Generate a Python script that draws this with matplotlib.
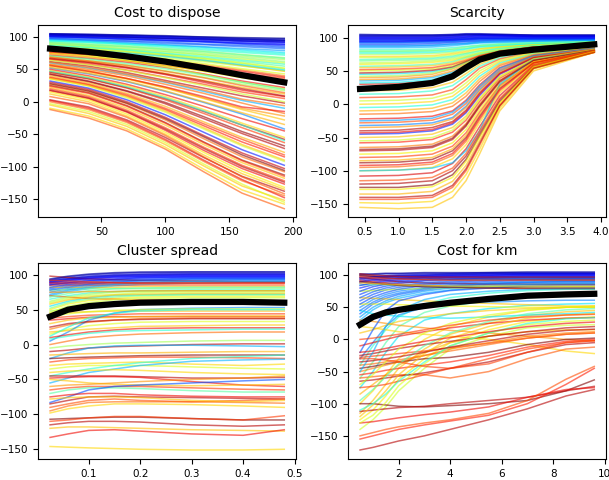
import numpy as np
import matplotlib
matplotlib.use("Agg")
import matplotlib.pyplot as plt

## Cost to dispose
dispose_x = [10, 40, 70, 100, 130, 160, 193]
dispose_mean = [82, 77, 70, 62, 52, 41, 30]
dispose_y = [
    [105, 104, 103, 101, 99, 97, 95], [104, 103, 102, 101, 100, 98, 97],
    [103, 102, 101, 100, 98, 96, 94], [102, 101, 99, 97, 95, 93, 91],
    [101, 100, 99, 98, 97, 96, 95], [100, 99, 97, 95, 93, 91, 89],
    [99, 98, 96, 94, 92, 89, 86], [104, 103, 101, 99, 97, 94, 92],
    [97, 95, 93, 90, 88, 85, 82], [95, 93, 90, 87, 84, 80, 76],
    [93, 91, 88, 84, 80, 76, 72], [92, 89, 86, 82, 78, 73, 68],
    [90, 87, 84, 80, 75, 70, 65], [88, 85, 81, 77, 72, 66, 60],
    [86, 83, 79, 74, 68, 62, 55], [85, 82, 78, 73, 67, 60, 52],
    [80, 77, 73, 68, 62, 55, 48], [83, 80, 76, 71, 64, 56, 47],
    [79, 75, 70, 64, 57, 49, 40], [76, 72, 67, 60, 52, 44, 36],
    [75, 70, 64, 56, 47, 37, 28], [72, 67, 61, 53, 43, 32, 22],
    [70, 64, 57, 48, 38, 27, 17], [68, 62, 54, 44, 33, 22, 12],
    [65, 58, 49, 38, 27, 15, 5], [62, 55, 45, 33, 21, 9, -2],
    [60, 52, 42, 30, 16, 2, -10], [58, 50, 40, 27, 13, -2, -18],
    [55, 46, 35, 21, 5, -12, -28], [52, 43, 31, 16, -1, -19, -42],
    [50, 40, 27, 11, -7, -26, -45], [48, 38, 25, 8, -12, -33, -55],
    [45, 35, 21, 3, -18, -40, -63], [42, 31, 16, -3, -26, -49, -72],
    [40, 29, 13, -7, -31, -55, -78], [37, 26, 9, -12, -37, -62, -85],
    [35, 24, 6, -16, -42, -68, -92], [32, 21, 3, -20, -47, -74, -98],
    [30, 19, 0, -24, -52, -79, -103], [27, 16, -3, -28, -57, -85, -108],
    [25, 14, -6, -32, -62, -90, -113], [22, 10, -10, -36, -66, -94, -118],
    [20, 8, -13, -40, -70, -98, -122], [17, 5, -16, -44, -75, -103, -127],
    [15, 3, -19, -47, -78, -107, -132], [3, -8, -28, -55, -86, -115, -138],
    [0, -12, -32, -60, -92, -122, -145], [-5, -18, -38, -66, -99, -130, -152],
    [-10, -22, -42, -70, -104, -136, -158], [-12, -25, -45, -73, -108, -141, -165],
    [78, 72, 64, 54, 42, 30, 20], [66, 60, 52, 42, 30, 18, 8],
    [57, 48, 36, 22, 6, -10, -22], [46, 36, 22, 5, -15, -36, -58],
    [38, 27, 11, -10, -34, -58, -82], [28, 17, -2, -26, -54, -82, -106],
    [105, 104, 103, 102, 100, 99, 98], [103, 102, 100, 98, 96, 94, 93],
    [101, 99, 97, 95, 93, 90, 88], [98, 96, 94, 92, 89, 87, 84],
    [96, 94, 91, 88, 85, 82, 79], [94, 92, 89, 86, 82, 78, 74],
    [91, 88, 85, 81, 77, 72, 67], [89, 86, 82, 78, 73, 68, 62],
    [87, 84, 80, 75, 70, 64, 58], [84, 81, 77, 72, 66, 59, 51],
    [82, 79, 75, 70, 64, 57, 49], [81, 77, 72, 66, 59, 51, 43],
    [77, 73, 68, 62, 55, 47, 38], [74, 69, 63, 56, 48, 39, 30],
    [71, 66, 59, 51, 41, 30, 19], [69, 63, 56, 47, 37, 25, 14],
    [67, 61, 53, 43, 32, 20, 9], [64, 57, 48, 37, 25, 12, 0],
    [61, 53, 43, 31, 18, 4, -6], [56, 47, 36, 23, 8, -8, -15],
    [53, 44, 32, 17, 0, -17, -35], [47, 37, 23, 6, -14, -36, -60],
    [43, 32, 17, -1, -23, -46, -68], [36, 25, 8, -14, -40, -66, -90],
    [24, 13, -7, -33, -63, -91, -115], [18, 6, -15, -42, -72, -100, -124],
    [12, 0, -22, -50, -82, -111, -135], [2, -10, -30, -58, -90, -120, -148],
    [-3, -15, -35, -63, -96, -127, -155], [8, -3, -24, -52, -85, -116, -142],
]
dispose_c = [0.08, 0.05, 0.1, 0.12, 0.03, 0.15, 0.18, 0.1, 0.22, 0.35, 0.4, 0.5, 0.55, 0.6,
             0.45, 0.62, 0.58, 0.7, 0.8, 0.85, 0.65, 0.9, 0.55, 0.72, 0.85, 0.95, 0.3, 0.8,
             0.7, 0.25, 0.9, 0.68, 0.85, 0.95, 0.72, 0.88, 0.6, 0.15, 0.93, 0.8, 0.98, 0.7,
             0.85, 0.9, 0.66, 0.95, 0.8, 0.7, 0.68, 0.82, 0.6, 0.9, 0.75, 0.95, 0.85, 1.0,
             0.02, 0.06, 0.13, 0.2, 0.28, 0.38, 0.48, 0.52, 0.42, 0.57, 0.35, 0.62,
             0.9, 0.75, 0.45, 0.82, 0.95, 0.6, 0.8, 0.9,
             0.72, 0.4, 0.98, 0.7, 0.85, 0.95, 0.7, 0.9, 0.62, 0.82]

## Scarcity
scarcity_x = [0.43, 1.0, 1.5, 1.8, 2.0, 2.2, 2.5, 3.0, 3.9]
scarcity_mean = [23, 26, 32, 42, 55, 67, 76, 82, 90]
scarcity_y = [
    [105, 104, 104, 105, 106, 106, 105, 104, 104], [103, 103, 103, 104, 105, 105, 104, 103, 103],
    [101, 101, 101, 102, 103, 104, 103, 102, 102], [99, 99, 99, 100, 101, 102, 102, 101, 101],
    [97, 97, 97, 98, 99, 100, 100, 100, 100], [95, 95, 96, 97, 98, 99, 99, 99, 99],
    [93, 93, 94, 95, 96, 97, 98, 98, 98], [90, 90, 91, 93, 94, 95, 96, 97, 97],
    [88, 88, 89, 91, 92, 94, 95, 96, 97], [85, 85, 86, 88, 90, 92, 93, 94, 96],
    [82, 82, 83, 85, 87, 89, 91, 93, 95], [79, 79, 80, 82, 84, 87, 89, 91, 94],
    [75, 75, 76, 78, 81, 84, 87, 90, 93], [70, 70, 71, 74, 77, 81, 85, 89, 92],
    [65, 66, 67, 70, 74, 78, 83, 88, 92], [60, 61, 63, 66, 71, 76, 81, 87, 91],
    [55, 56, 58, 62, 68, 74, 80, 86, 91], [50, 51, 53, 58, 65, 72, 79, 86, 90],
    [45, 46, 49, 55, 63, 71, 78, 85, 90], [40, 41, 45, 53, 62, 70, 77, 85, 90],
    [35, 36, 40, 48, 58, 68, 76, 84, 89], [30, 31, 35, 43, 55, 66, 75, 83, 89],
    [25, 26, 30, 38, 50, 63, 73, 82, 88], [20, 21, 25, 33, 46, 60, 72, 81, 88],
    [15, 16, 20, 28, 42, 57, 70, 80, 87], [10, 11, 14, 22, 37, 54, 68, 79, 87],
    [5, 6, 9, 17, 32, 50, 66, 78, 86], [0, 1, 4, 12, 27, 46, 64, 77, 86],
    [-5, -4, -1, 7, 22, 42, 62, 76, 85], [-10, -9, -6, 2, 17, 38, 60, 75, 85],
    [-15, -14, -11, -3, 12, 34, 58, 74, 84], [-22, -21, -18, -10, 6, 29, 55, 73, 84],
    [-28, -27, -24, -15, 1, 25, 52, 72, 83], [-32, -31, -28, -20, -3, 22, 50, 71, 83],
    [-40, -39, -35, -26, -9, 17, 47, 70, 82], [-45, -44, -40, -30, -13, 13, 45, 69, 82],
    [-50, -49, -45, -35, -18, 9, 42, 68, 82], [-58, -57, -53, -42, -24, 4, 39, 67, 81],
    [-65, -64, -60, -48, -29, 0, 36, 66, 81], [-70, -69, -65, -53, -33, -4, 33, 65, 81],
    [-75, -74, -70, -58, -38, -8, 30, 64, 80], [-80, -79, -75, -63, -43, -12, 28, 63, 80],
    [-88, -87, -83, -70, -50, -18, 24, 62, 80], [-95, -94, -90, -77, -56, -24, 20, 61, 80],
    [-100, -99, -95, -82, -61, -28, 17, 60, 80], [-108, -107, -103, -89, -67, -34, 13, 59, 80],
    [-100, -99, -96, -88, -70, -40, 30, 68, 80], [-120, -119, -115, -100, -78, -44, 7, 57, 79],
    [-125, -125, -121, -106, -83, -48, 4, 56, 79], [-135, -135, -131, -116, -92, -55, 0, 55, 78],
    [-143, -143, -140, -125, -100, -62, -3, 54, 78], [-148, -149, -146, -131, -106, -68, -6, 53, 78],
    [-155, -157, -155, -140, -115, -75, -10, 50, 78],
    [104, 104, 104, 104, 105, 105, 105, 104, 104], [102, 102, 102, 103, 104, 104, 104, 103, 103],
    [100, 100, 100, 101, 102, 103, 103, 102, 102], [98, 98, 98, 99, 100, 101, 101, 101, 101],
    [96, 96, 96, 97, 98, 99, 99, 99, 99], [94, 94, 95, 96, 97, 98, 98, 98, 98],
    [92, 92, 93, 94, 95, 96, 97, 97, 97], [87, 87, 88, 90, 91, 93, 94, 95, 96],
    [80, 80, 81, 83, 86, 88, 90, 92, 94], [77, 77, 78, 80, 83, 86, 88, 91, 93],
    [72, 72, 73, 76, 79, 83, 86, 89, 92], [67, 68, 69, 72, 76, 80, 84, 88, 92],
    [62, 63, 65, 68, 72, 77, 82, 87, 91], [57, 58, 60, 64, 70, 75, 81, 87, 91],
    [52, 53, 55, 60, 66, 73, 80, 86, 90], [47, 48, 51, 56, 64, 72, 79, 86, 90],
    [42, 43, 47, 54, 62, 70, 78, 85, 90], [37, 38, 42, 50, 60, 69, 77, 84, 89],
    [32, 33, 37, 46, 57, 67, 76, 84, 89],
    [-25, -24, -21, -12, 4, 27, 54, 73, 84], [-35, -34, -31, -22, -5, 20, 49, 71, 83],
    [-43, -42, -38, -28, -11, 15, 46, 70, 82], [-55, -54, -50, -39, -21, 7, 41, 68, 82],
    [-68, -67, -63, -51, -31, -2, 35, 66, 81], [-85, -84, -80, -67, -47, -15, 26, 63, 80],
    [-92, -91, -87, -74, -53, -21, 22, 62, 80], [-115, -114, -110, -96, -74, -40, 9, 58, 79],
    [-128, -128, -124, -110, -86, -50, 2, 56, 79], [-140, -140, -137, -122, -97, -59, -2, 54, 78],
]
scarcity_c = [0.05, 0.1, 0.08, 0.12, 0.15, 0.1, 0.2, 0.18, 0.25, 0.3, 0.4, 0.45, 0.55, 0.6,
              0.5, 0.66, 0.7, 0.62, 0.35, 0.75, 0.3, 0.9, 0.55, 0.7, 0.4, 0.85, 0.6, 0.68,
              0.38, 0.72, 0.8, 0.9, 0.83, 0.25, 0.95, 0.15, 0.7, 0.88, 0.78, 0.95, 0.65, 0.85,
              0.98, 0.8, 0.68, 0.92, 0.32, 0.96, 1.0, 0.72, 0.85, 0.68, 0.7,
              0.03, 0.06, 0.13, 0.09, 0.17, 0.14, 0.22, 0.28,
              0.5, 0.38, 0.68, 0.42, 0.58, 0.45, 0.85, 0.95, 0.55, 0.75, 0.36,
              0.28, 0.75, 0.9, 0.6, 0.98, 0.72, 0.9, 0.83, 0.65, 0.95]

## Cluster spread
cluster_x = [0.025, 0.06, 0.1, 0.15, 0.2, 0.3, 0.4, 0.48]
cluster_mean = [40, 50, 55, 58, 60, 61, 61, 60]
cluster_y = [
    [93, 97, 100, 102, 103, 104, 104, 104], [92, 95, 98, 100, 101, 102, 102, 102],
    [90, 93, 96, 98, 99, 100, 100, 100], [88, 91, 94, 96, 97, 98, 98, 98],
    [85, 88, 91, 93, 95, 96, 96, 96], [80, 84, 87, 90, 92, 94, 94, 94],
    [75, 80, 84, 87, 89, 91, 92, 92], [70, 76, 80, 84, 86, 88, 89, 89],
    [98, 96, 94, 93, 92, 91, 90, 90], [86, 86, 86, 86, 86, 86, 86, 86],
    [82, 82, 82, 82, 83, 83, 83, 83], [78, 79, 80, 80, 80, 80, 80, 80],
    [65, 70, 74, 76, 77, 78, 78, 78], [60, 66, 70, 72, 74, 75, 75, 75],
    [55, 62, 67, 70, 71, 72, 72, 72], [50, 58, 63, 66, 68, 69, 69, 69],
    [48, 52, 55, 58, 60, 62, 62, 62], [70, 68, 66, 65, 64, 64, 64, 63],
    [45, 46, 47, 48, 48, 48, 48, 48], [38, 40, 42, 43, 44, 44, 44, 44],
    [35, 37, 39, 40, 40, 40, 40, 40], [30, 35, 38, 39, 40, 41, 41, 41],
    [22, 28, 32, 35, 37, 38, 38, 38], [15, 22, 27, 30, 32, 33, 33, 33],
    [5, 18, 35, 45, 50, 52, 53, 53], [10, 14, 18, 21, 23, 24, 24, 24],
    [8, 12, 16, 19, 20, 21, 22, 22], [0, 5, 10, 13, 15, 17, 18, 18],
    [-5, -2, 0, 2, 3, 5, 6, 6], [-10, -8, -5, -3, -2, 0, 1, 1],
    [-20, -12, -5, -2, -1, -1, -2, -3], [-15, -14, -13, -12, -12, -11, -10, -10],
    [-20, -19, -18, -17, -16, -15, -15, -15], [-25, -22, -20, -19, -18, -18, -19, -20],
    [-30, -28, -27, -26, -25, -28, -30, -28], [-35, -32, -30, -30, -30, -32, -34, -35],
    [-45, -40, -35, -30, -26, -20, -17, -15], [-55, -48, -40, -35, -30, -24, -22, -21],
    [-45, -45, -45, -45, -46, -48, -48, -47], [-48, -47, -46, -46, -47, -53, -58, -60],
    [-50, -52, -55, -57, -58, -59, -58, -57], [-60, -58, -57, -55, -53, -50, -48, -45],
    [-65, -62, -60, -60, -60, -62, -64, -65], [-70, -65, -62, -62, -63, -66, -68, -68],
    [-83, -75, -65, -60, -58, -55, -52, -50], [-85, -80, -75, -74, -75, -76, -77, -78],
    [-90, -85, -80, -78, -80, -82, -80, -78], [-95, -88, -83, -82, -82, -82, -83, -84],
    [-98, -92, -88, -85, -85, -86, -88, -90], [-107, -106, -105, -104, -104, -106, -108, -108],
    [-110, -108, -105, -103, -103, -106, -108, -102], [-115, -112, -110, -110, -111, -115, -117, -115],
    [-120, -118, -118, -119, -120, -122, -123, -124], [-133, -128, -123, -122, -124, -128, -130, -122],
    [-146, -147, -148, -149, -150, -151, -151, -150],
    [94, 98, 101, 103, 104, 104, 104, 104], [91, 94, 97, 99, 100, 101, 101, 101],
    [89, 92, 95, 97, 98, 99, 99, 99], [86, 89, 92, 94, 96, 97, 97, 97],
    [82, 86, 89, 92, 93, 95, 95, 95], [78, 82, 86, 89, 91, 93, 93, 93],
    [72, 78, 82, 86, 88, 90, 90, 90],
    [68, 73, 77, 80, 81, 82, 82, 82], [62, 68, 72, 75, 76, 77, 77, 77],
    [58, 64, 68, 71, 72, 73, 73, 73], [52, 60, 65, 68, 70, 71, 71, 71],
    [46, 55, 60, 64, 66, 67, 67, 67], [92, 91, 90, 89, 88, 88, 88, 88],
    [88, 88, 88, 88, 88, 88, 88, 88], [75, 75, 76, 76, 77, 77, 77, 77],
    [40, 44, 47, 49, 50, 51, 51, 51], [25, 30, 33, 35, 36, 37, 37, 37],
    [18, 20, 22, 24, 26, 27, 28, 28], [12, 25, 38, 45, 48, 50, 50, 50],
    [-40, -38, -37, -36, -37, -40, -42, -43], [-75, -72, -70, -70, -72, -74, -75, -75],
    [-78, -76, -75, -75, -76, -80, -82, -80],
]
cluster_c = [0.05, 0.08, 0.1, 0.12, 0.15, 0.2, 0.25, 0.3, 0.95, 0.85, 0.7, 0.5, 0.4, 0.6,
             0.35, 0.65, 0.55, 0.8, 0.72, 0.85, 0.9, 0.7, 0.78, 0.62, 0.25, 0.9, 0.4, 0.8,
             0.55, 0.95, 0.3, 0.72, 1.0, 0.85, 0.68, 0.62, 0.4, 0.3, 0.95, 0.9, 0.7, 0.75,
             0.85, 0.45, 0.2, 0.95, 0.83, 0.8, 0.68, 1.0, 0.85, 0.95, 0.7, 0.9, 0.68,
             0.03, 0.07, 0.11, 0.14, 0.18, 0.22, 0.28,
             0.45, 0.55, 0.7, 0.5, 0.6, 0.85, 0.9, 0.75,
             0.62, 0.95, 0.7, 0.38, 0.68, 0.9, 0.7]

## Cost for km
km_x = [0.5, 1.0, 1.5, 2.0, 3.0, 4.0, 5.5, 7.0, 8.5, 9.6]
km_mean = [23, 35, 42, 46, 52, 57, 63, 68, 70, 71]
km_y = [
    [100, 101, 102, 102, 103, 103, 104, 104, 104, 104], [97, 98, 99, 100, 101, 102, 103, 103, 103, 103],
    [93, 95, 97, 98, 99, 100, 101, 102, 102, 102], [88, 91, 93, 95, 97, 98, 99, 100, 100, 100],
    [80, 85, 89, 91, 94, 96, 97, 98, 98, 98], [70, 78, 83, 87, 91, 93, 95, 96, 96, 96],
    [60, 70, 77, 81, 86, 89, 92, 93, 94, 94], [50, 62, 70, 75, 81, 85, 88, 90, 91, 91],
    [40, 55, 64, 70, 77, 82, 86, 88, 89, 89], [30, 46, 57, 64, 72, 77, 82, 85, 86, 86],
    [100, 98, 96, 95, 94, 94, 94, 94, 94, 94], [96, 94, 92, 90, 88, 87, 86, 86, 86, 86],
    [92, 90, 88, 86, 84, 82, 80, 79, 78, 78], [85, 85, 85, 84, 83, 82, 82, 82, 82, 82],
    [75, 76, 77, 78, 79, 80, 81, 82, 82, 82], [-40, -10, 15, 35, 55, 65, 72, 76, 78, 78],
    [-60, -35, -5, 20, 42, 52, 60, 65, 67, 68], [-75, -50, -20, 5, 30, 40, 48, 53, 55, 56],
    [-30, -5, 20, 38, 50, 55, 58, 60, 61, 61], [65, 64, 63, 62, 60, 58, 56, 54, 52, 52],
    [55, 55, 55, 54, 53, 52, 51, 50, 50, 50], [-100, -80, -55, -30, 0, 20, 35, 45, 50, 52],
    [-115, -95, -70, -45, -15, 8, 25, 37, 43, 45], [-125, -110, -88, -62, -30, -5, 15, 28, 33, 35],
    [-140, -125, -105, -80, -45, -15, 5, 18, 22, 23], [-85, -70, -55, -40, -20, -5, 5, 12, 15, 15],
    [20, 18, 15, 12, 8, 5, 0, -8, -18, -22], [30, 28, 25, 22, 18, 14, 10, 5, 0, -2],
    [-10, -5, 0, 5, 12, 18, 25, 30, 33, 34], [-25, -22, -18, -14, -8, -3, 5, 12, 18, 20],
    [-28, -26, -24, -22, -18, -13, -6, 2, 8, 10], [-40, -38, -35, -32, -25, -18, -8, 2, 8, 10],
    [-45, -42, -38, -35, -30, -28, -20, -8, 0, 2], [-55, -52, -48, -45, -40, -35, -25, -12, -3, 0],
    [-60, -58, -56, -55, -55, -60, -50, -30, -15, -12], [-65, -63, -60, -57, -52, -45, -35, -20, -8, -5],
    [-50, -45, -40, -35, -25, -15, -5, 5, 10, 12], [-75, -73, -70, -65, -55, -45, -30, -15, -5, -2],
    [-100, -100, -102, -104, -105, -103, -100, -95, -80, -63], [-112, -110, -108, -106, -104, -100, -95, -90, -80, -73],
    [-130, -128, -125, -122, -117, -113, -105, -90, -78, -75], [-150, -145, -140, -136, -130, -125, -115, -95, -62, -42],
    [-155, -150, -145, -140, -133, -127, -118, -100, -70, -45], [-172, -168, -163, -158, -150, -140, -125, -108, -88, -78],
    [45, 40, 38, 36, 34, 33, 35, 38, 40, 42], [10, 15, 22, 28, 35, 40, 45, 48, 50, 50],
    [102, 102, 103, 103, 104, 104, 104, 105, 105, 105], [95, 97, 98, 99, 100, 101, 102, 102, 102, 102],
    [90, 93, 95, 96, 98, 99, 100, 101, 101, 101], [84, 88, 91, 93, 96, 97, 98, 99, 99, 99],
    [75, 82, 86, 89, 92, 94, 96, 97, 97, 97], [65, 74, 80, 84, 88, 91, 93, 95, 95, 95],
    [55, 66, 73, 78, 84, 87, 90, 92, 92, 92], [45, 58, 67, 72, 79, 83, 87, 89, 90, 90],
    [35, 50, 60, 67, 75, 80, 84, 86, 87, 87], [-20, 15, 45, 60, 70, 76, 80, 83, 84, 84],
    [-50, -20, 20, 45, 62, 70, 75, 78, 79, 79],
    [102, 100, 99, 98, 97, 97, 97, 97, 97, 97], [98, 96, 95, 94, 93, 92, 92, 92, 92, 92],
    [90, 88, 86, 84, 82, 81, 80, 80, 80, 80], [88, 87, 86, 85, 84, 83, 83, 83, 83, 83],
    [-70, -55, -35, -15, 10, 25, 38, 46, 50, 51], [-95, -78, -58, -38, -10, 10, 28, 40, 46, 48],
    [-120, -102, -80, -55, -22, 2, 20, 33, 38, 40], [-130, -118, -98, -72, -38, -10, 10, 23, 28, 30],
    [-110, -100, -85, -65, -35, -10, 10, 25, 32, 34],
    [0, 2, 5, 8, 15, 22, 30, 35, 38, 39], [-20, -18, -14, -10, -3, 3, 12, 20, 25, 27],
    [-35, -33, -30, -27, -20, -12, -2, 8, 14, 16], [-30, -30, -32, -35, -42, -45, -38, -20, -5, -2],
]
km_c = [0.05, 0.08, 0.1, 0.12, 0.15, 0.18, 0.2, 0.25, 0.22, 0.3, 1.0, 0.95, 0.85, 0.45,
        0.6, 0.4, 0.45, 0.35, 0.25, 0.7, 0.65, 0.68, 0.7, 0.66, 0.6, 0.72, 0.68, 0.75,
        0.9, 0.95, 0.85, 0.8, 1.0, 0.88, 0.82, 0.95, 0.78, 0.85, 1.0, 0.95, 0.9, 0.83,
        0.88, 0.95, 0.35, 0.7,
        0.03, 0.07, 0.1, 0.14, 0.17, 0.21, 0.2, 0.24, 0.28, 0.2, 0.3,
        0.95, 0.85, 1.0, 0.7,
        0.62, 0.45, 0.7, 0.62, 0.4,
        0.85, 0.9, 0.95, 0.85]

panels = [
    ("Cost to dispose", dispose_x, dispose_y, dispose_c, dispose_mean),
    ("Scarcity", scarcity_x, scarcity_y, scarcity_c, scarcity_mean),
    ("Cluster spread", cluster_x, cluster_y, cluster_c, cluster_mean),
    ("Cost for km", km_x, km_y, km_c, km_mean),
]
boxes = [
    [0.063, 0.547, 0.423, 0.401],
    [0.572, 0.547, 0.423, 0.401],
    [0.063, 0.044, 0.423, 0.408],
    [0.572, 0.044, 0.423, 0.408],
]

fig = plt.figure(figsize=(6.09, 4.8), dpi=100)
for (title, x, ys, cs, mean), box in zip(panels, boxes):
    ax = fig.add_axes(box)
    for y, c in zip(ys, cs):
        ax.plot(x, y, color=plt.cm.jet(c), alpha=0.6, lw=1.1)
    ax.plot(x, mean, color="black", lw=4.5, zorder=10)
    ax.set_title(title, fontsize=10)
    ax.tick_params(labelsize=7.5)

fig.savefig("out.png", dpi=100)
